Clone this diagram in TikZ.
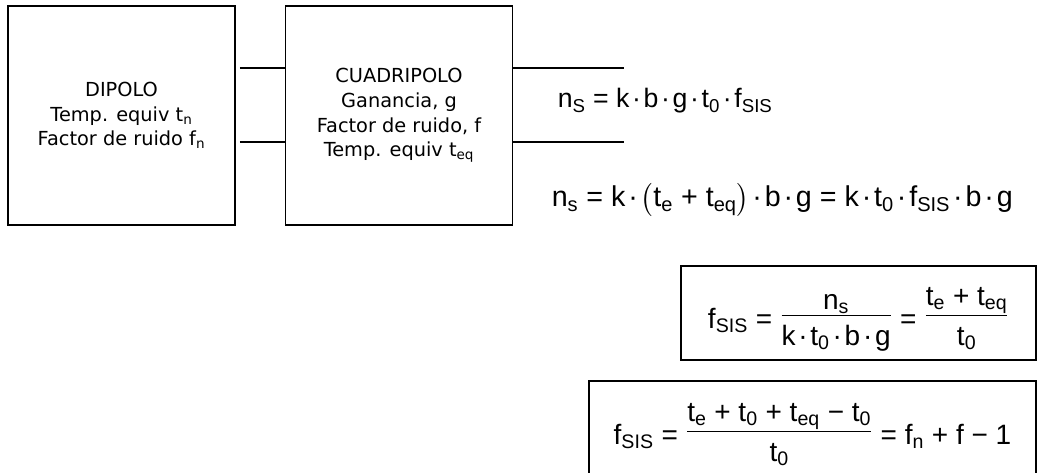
\documentclass[tikz,border=0pt]{standalone}
\usepackage{amsmath}
\usepackage{fontspec}
\setmainfont{DejaVu Sans}
\newfontfamily\eqfont{Liberation Sans}
\usepackage{tikz}
\usetikzlibrary{calc}
\newcommand{\subi}[1]{\textsubscript{#1}}
\newcommand{\pdot}{\kern0.1em·\kern0.1em}
\newcommand{\fraccion}[2]{\raisebox{4.5pt}{$\tfrac{\mbox{#1}}{\mbox{\rule{0pt}{1em}#2}}$}}

\begin{document}
\begin{tikzpicture}[x=0.75pt,y=-0.75pt,line width=1.2pt,
  bloque/.style={draw,align=center,minimum width=170.5pt,minimum height=164.25pt,font=\fontsize{14.5}{18.5}\selectfont},
  ecuacion/.style={anchor=base west,inner sep=0pt,font=\eqfont\fontsize{20}{24}\selectfont},
  recuadro/.style={draw,inner sep=0pt,font=\eqfont\fontsize{21}{24}\selectfont}]
 \useasboundingbox (0,0) rectangle (1039,473);
 	\node[bloque] (dipolo) at (121.5,115.5) {DIPOLO\\Temp. equiv t\subi{n}\\Factor de ruido f\subi{n}};
 	\node[bloque] (cuadripolo) at (399,115.5) {CUADRIPOLO\\Ganancia, g\\Factor de ruido, f\\Temp. equiv t\subi{eq}};
 	\draw ($(dipolo.east |- 0,68)+(4,0)$) -- (cuadripolo.west |- 0,68);
 	\draw ($(dipolo.east |- 0,142)+(4,0)$) -- (cuadripolo.west |- 0,142);
 	\coordinate (salida1) at (624,68);
 	\coordinate (salida2) at (624,142);
 	\draw (cuadripolo.east |- salida1) -- (salida1);
 	\draw (cuadripolo.east |- salida2) -- (salida2);
 	\node[ecuacion] (ruido1) at (557,108) {n\subi{S} = k\pdot b\pdot g\pdot t\subi{0}\pdot f\subi{SIS}};
 	\node[ecuacion,font=\eqfont\fontsize{21.5}{26}\selectfont] (ruido2) at (551,207) {n\subi{s} = k\pdot$\bigl($t\subi{e} + t\subi{eq}$\bigr)$\pdot b\pdot g = k\pdot t\subi{0}\pdot f\subi{SIS}\pdot b\pdot g};
 	\node[recuadro,minimum width=266.25pt,minimum height=70.5pt,text height=33pt,text depth=10pt] (factor1) at (858.5,313) {f\subi{SIS} = \fraccion{n\subi{s}}{k\pdot t\subi{0}\pdot b\pdot g} = \fraccion{t\subi{e} + t\subi{eq}}{t\subi{0}}};
 	\node[recuadro,minimum width=335.25pt,minimum height=73.5pt,text height=32pt,text depth=10.5pt] (factor2) at (812.5,430) {f\subi{SIS} = \fraccion{t\subi{e} + t\subi{0} + t\subi{eq} − t\subi{0}}{t\subi{0}} = f\subi{n} + f − 1};
\end{tikzpicture}
\end{document}
